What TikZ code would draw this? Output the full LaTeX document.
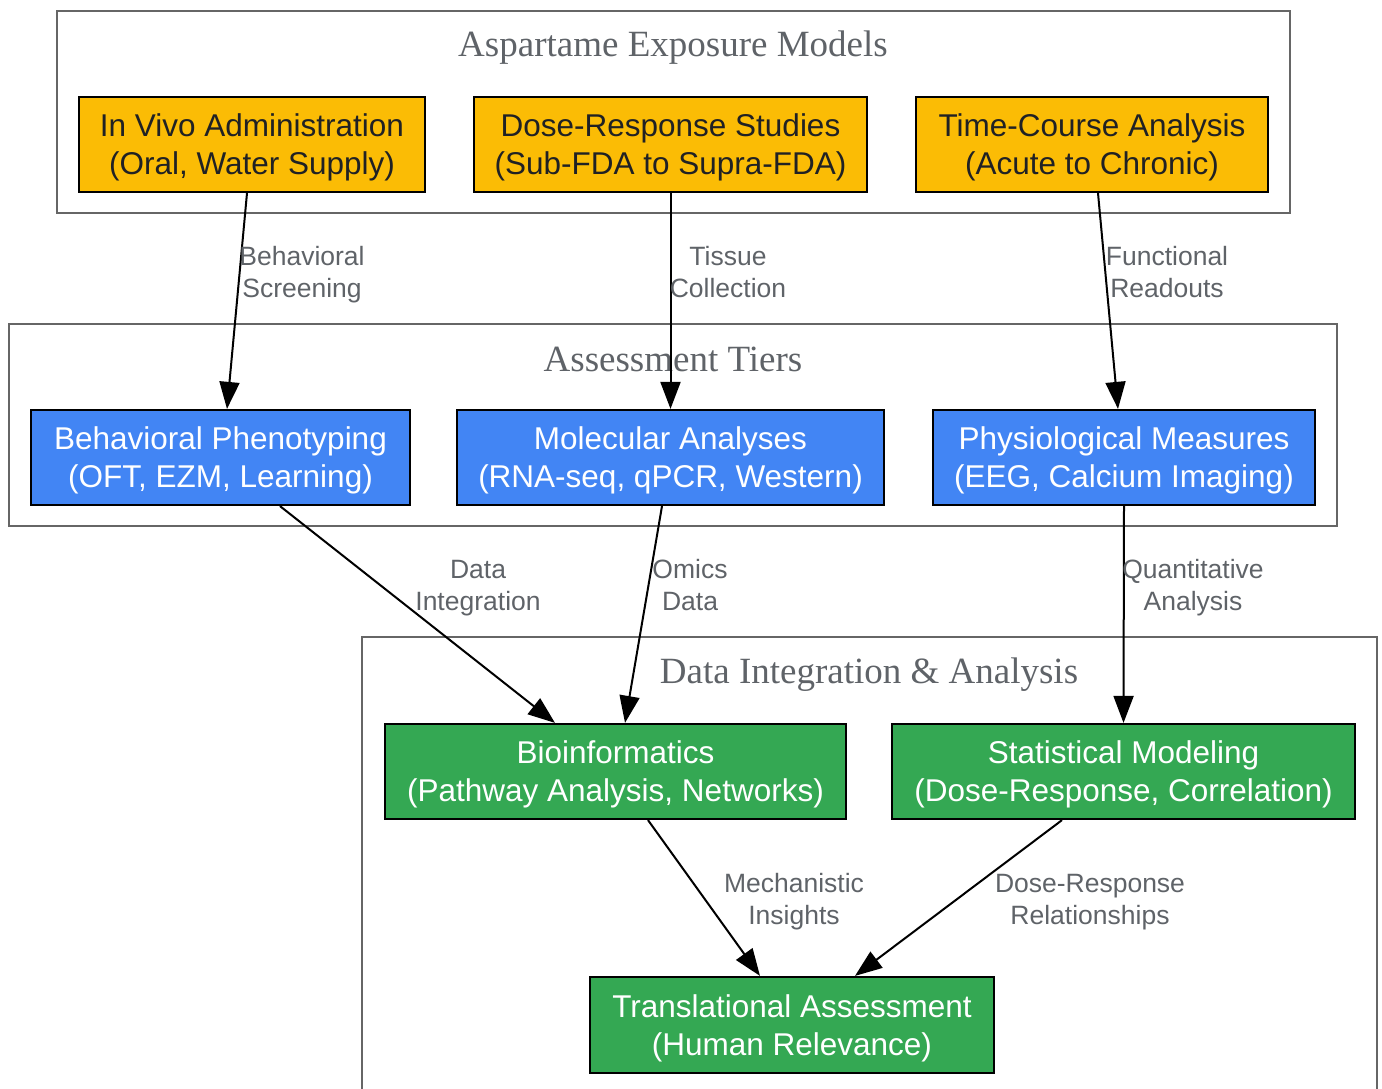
\documentclass[tikz,border=0pt]{standalone}
\usepackage{fontspec}
\setmainfont{Liberation Serif}
\newfontfamily\arialfont{Liberation Sans}
\usetikzlibrary{arrows.meta,calc}
\definecolor{yel}{HTML}{FBBC05}
\definecolor{blu}{HTML}{4285F4}
\definecolor{grn}{HTML}{34A853}
\definecolor{darktext}{HTML}{202124}
\definecolor{labgray}{HTML}{5F6368}
\definecolor{clgray}{HTML}{666666}
\tikzset{
  cluster/.style={draw=clgray, line width=2pt, fill=none},
  cltitle/.style={text=labgray, font=\fontsize{37}{42}\selectfont, inner sep=0pt},
  box/.style={draw=black, line width=2.2pt, inner sep=0pt, align=center, text depth=-1.5pt,
    font=\arialfont\fontsize{31.5}{38}\selectfont},
  ybox/.style={box, fill=yel, text=darktext},
  bbox/.style={box, fill=blu, text=white},
  gbox/.style={box, fill=grn, text=white},
  elabel/.style={text=labgray, align=center, inner sep=0pt,
    font=\arialfont\fontsize{26.5}{32}\selectfont},
  conn/.style={draw=black, line width=2pt, -{Triangle[length=27pt,width=20pt]}}
}
\begin{document}
\begin{tikzpicture}[x=1pt,y=-1pt]
\useasboundingbox (0,0) rectangle (1382,1089);
% clusters
\draw[cluster] (57,11) rectangle (1290,213);
\node[cltitle] (t1) at (673,48) {Aspartame Exposure Models};
\draw[cluster] (9,324) rectangle (1337,526);
\node[cltitle] (t2) at (673,359) {Assessment Tiers};
\draw[cluster] (362,1095) -- (362,637) -- (1377,637) -- (1377,1095);
\node[cltitle] (t3) at (869,675) {Data Integration \& Analysis};
% row 1
\node[ybox, minimum width=346, minimum height=95] (A1) at (252,144.5) {In Vivo Administration\\(Oral, Water Supply)};
\node[ybox, minimum width=393, minimum height=95] (A2) at (670.5,144.5) {Dose-Response Studies\\(Sub-FDA to Supra-FDA)};
\node[ybox, minimum width=352, minimum height=95] (A3) at (1092,144.5) {Time-Course Analysis\\(Acute to Chronic)};
% row 2
\node[bbox, minimum width=379, minimum height=95] (B1) at (220.5,457.5) {Behavioral Phenotyping\\(OFT, EZM, Learning)};
\node[bbox, minimum width=427, minimum height=95] (B2) at (670.5,457.5) {Molecular Analyses\\(RNA-seq, qPCR, Western)};
\node[bbox, minimum width=382, minimum height=95] (B3) at (1124,457.5) {Physiological Measures\\(EEG, Calcium Imaging)};
% row 3
\node[gbox, minimum width=461, minimum height=95] (C1) at (615.5,771.5) {Bioinformatics\\(Pathway Analysis, Networks)};
\node[gbox, minimum width=463, minimum height=95] (C2) at (1123.5,771.5) {Statistical Modeling\\(Dose-Response, Correlation)};
% row 4
\node[gbox, minimum width=404, minimum height=96] (D) at (792,1025) {Translational Assessment\\(Human Relevance)};
% connectors
\draw[conn] ([xshift=-5pt]A1.south) -- ([xshift=6.5pt]B1.north);
\draw[conn] (A2.south) -- (B2.north);
\draw[conn] ([xshift=6pt]A3.south) -- ([xshift=-6pt]B3.north);
\draw[conn] ([xshift=59.5pt]B1.south) -- ([xshift=-60.5pt]C1.north);
\draw[conn] ([xshift=-8.5pt]B2.south) -- ([xshift=9.5pt]C1.north);
\draw[conn] (B3.south) -- (C2.north);
\draw[conn] ([xshift=32.5pt]C1.south) -- ([xshift=-32pt]D.north);
\draw[conn] ([xshift=-61.5pt]C2.south) -- ([xshift=63pt]D.north);
% labels
\node[elabel] (l1) at (302,275) {Behavioral\\Screening};
\node[elabel] (l2) at (728,272) {Tissue\\Collection};
\node[elabel] (l3) at (1167,272) {Functional\\Readouts};
\node[elabel] (l4) at (478,588) {Data\\Integration};
\node[elabel] (l5) at (690,585) {Omics\\Data};
\node[elabel] (l6) at (1193,588) {Quantitative\\Analysis};
\node[elabel] (l7) at (794,902) {Mechanistic\\Insights};
\node[elabel] (l8) at (1090,902) {Dose-Response\\Relationships};
\end{tikzpicture}
\end{document}
